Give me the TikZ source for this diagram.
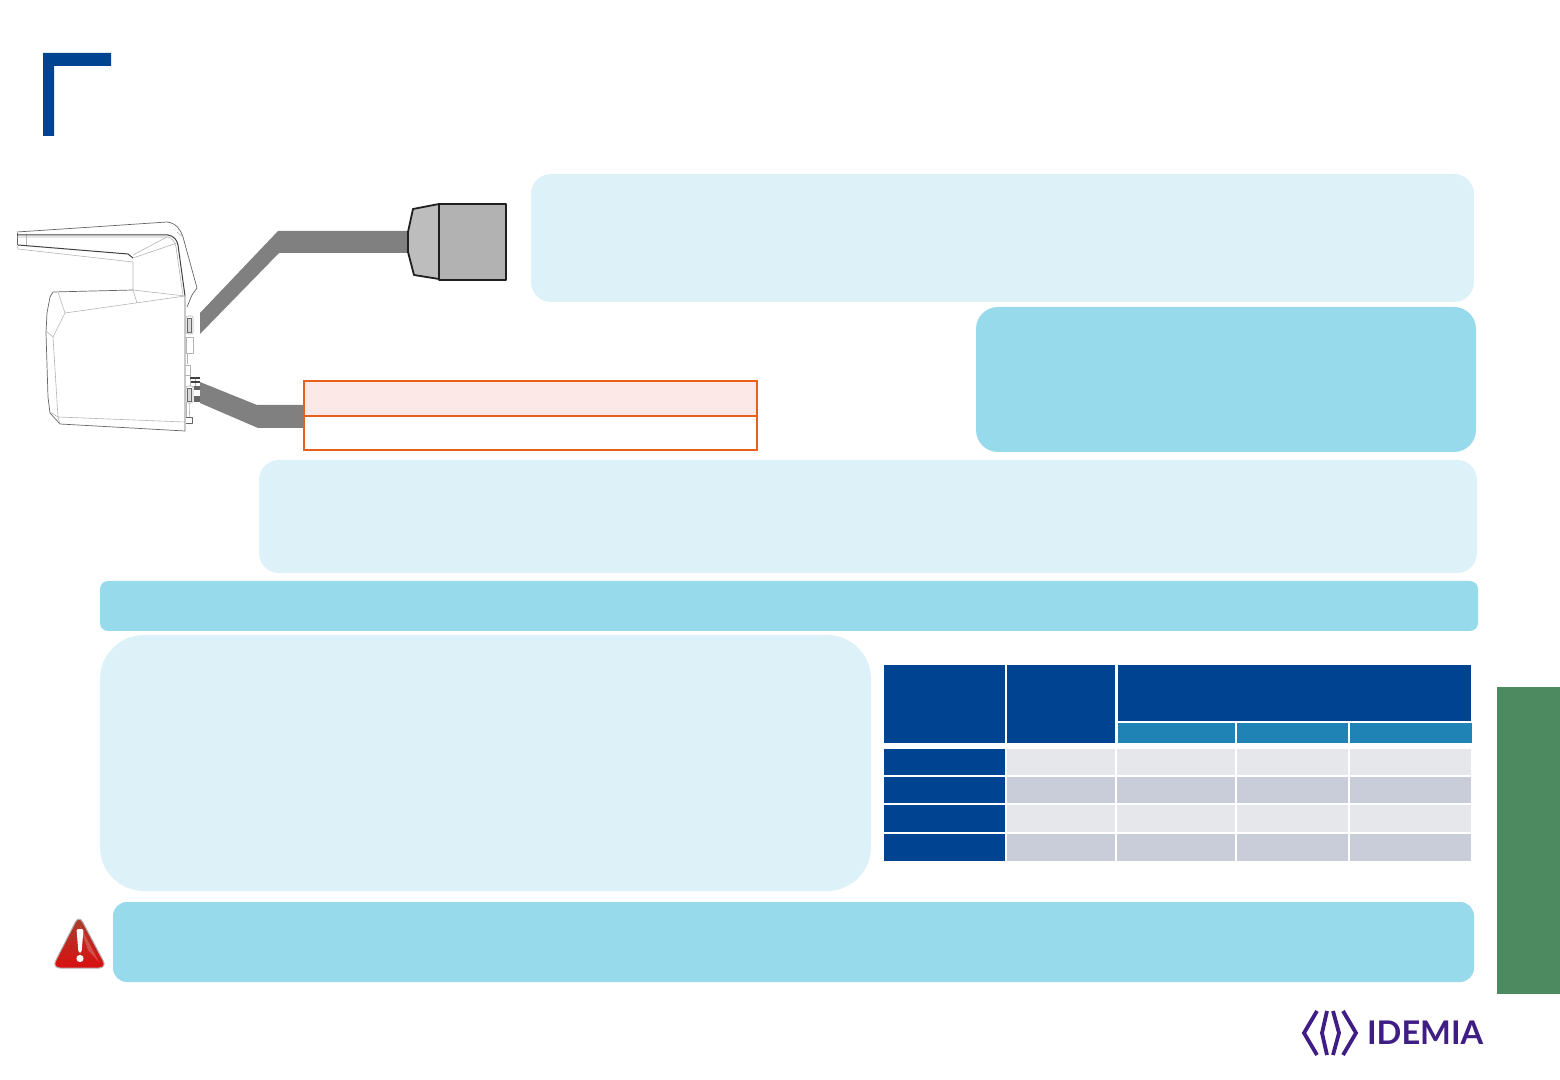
\documentclass[tikz,border=0pt]{standalone}
\usepackage{fontspec}
\setmainfont{Lato}
\definecolor{idblue}{HTML}{004391}
\definecolor{paleb}{HTML}{DDF1F8}
\definecolor{midb}{HTML}{96DAEC}
\definecolor{subb}{HTML}{1F84B5}
\definecolor{rowa}{HTML}{E6E7EB}
\definecolor{rowb}{HTML}{C9CDD9}
\definecolor{tabg}{HTML}{4D8A5F}
\definecolor{cableg}{HTML}{808080}
\definecolor{orangeb}{HTML}{E8611A}
\definecolor{pinkf}{HTML}{FDE8E8}
\definecolor{purp}{HTML}{3F1D84}
\definecolor{devl}{HTML}{B4B4B4}
\definecolor{warntop}{HTML}{A8402E}
\definecolor{warnbot}{HTML}{D81010}
\tikzset{
  pale/.style={fill=paleb},
  mid/.style={fill=midb},
  cable/.style={fill=cableg},
  devline/.style={draw=devl,line width=0.3pt,line join=round},
  devdark/.style={draw=black!60,line width=0.35pt,line join=round},
  devheavy/.style={draw=black!75,line width=0.5pt,line join=round},
  plug/.style={draw=black!88,line width=0.9pt,line join=round},
  cellh/.style={fill=idblue},
  cellsub/.style={fill=subb},
  cella/.style={fill=rowa},
  cellb/.style={fill=rowb},
  orangecell/.style={draw=orangeb,line width=1pt},
  logoline/.style={draw=purp,line width=1.9pt,line join=miter}
}
\begin{document}
\begin{tikzpicture}[x=0.5pt,y=-0.5pt]
\useasboundingbox (0,0) rectangle (1560,1080);
% corner bracket
\fill[idblue] (43,53) -- (111,53) -- (111,66) -- (54,66) -- (54,136) -- (43,136) -- cycle;
% side tab
\fill[tabg] (1497,687) rectangle (1560,994);
% bubbles
\fill[pale,rounded corners=10pt] (531,174) rectangle (1474,302);
\fill[mid,rounded corners=11pt] (976,307) rectangle (1476,452);
\fill[pale,rounded corners=10pt] (259,460) rectangle (1477,573);
\fill[mid,rounded corners=4pt] (100,581) rectangle (1478,631);
\fill[pale,rounded corners=22pt] (100,635) rectangle (871,891);
\fill[mid,rounded corners=7pt] (113,902) rectangle (1474,982);
% cables
\fill[cable] (200,313) -- (278,231) -- (412,231) -- (412,253) -- (279,253) -- (200,334) -- cycle;
\fill[cable] (200,382) -- (257,405) -- (306,405) -- (306,428) -- (258,428) -- (200,403) -- cycle;
% plug
\filldraw[plug,fill=black!26] (439,204) -- (413,209) -- (408,232) -- (408,252) -- (414,275) -- (439,279) -- cycle;
\filldraw[plug,fill=black!30] (439,204) rectangle (506,280);
% orange table
\filldraw[orangecell,fill=pinkf] (304,381) rectangle (757,416);
\filldraw[orangecell,fill=white] (304,416) rectangle (757,450);
% device
\draw[devline] (17,245) -- (18,249) -- (133,262) -- (133,290);
\draw[devdark] (17,233) -- (17,245);
\draw[devline] (26,234) -- (26,246);
\draw[devdark] (17,232) -- (100,226.5) -- (167,222) .. controls (176,223) and (181,230) .. (183,237) -- (197,288) -- (192,295) -- (187,307);
\draw[devheavy] (17,235) -- (168,235) .. controls (174,236) and (177,240) .. (178,245) -- (185,296);
\draw[devline] (17,237) -- (168,237) .. controls (172,238) and (175,242) .. (176,247) -- (183,296);
\draw[devheavy] (18,245) -- (128,254) -- (133,258);
\draw[devline] (133,255) -- (167,237);
\draw[devline] (133,258) -- (177,243);
\draw[devline] (177,232) -- (183,237);
\draw[devdark] (50,297) -- (53,292) -- (133,290);
\draw[devline] (133,290) -- (185,296);
\draw[devdark] (50,297) -- (47,313) -- (46,333) -- (48,397) -- (50,413) -- (60,424) -- (185,431) -- (185,296);
\draw[devline] (58,292) -- (65,313) -- (185,296);
\draw[devline] (65,313) -- (53,337) -- (58,417) -- (185,422);
\draw[devline] (46,331) -- (53,337);
\draw[devline] (50,412) -- (58,417) -- (60,424);
\draw[devline] (133,290) -- (137,303);
% device ports
\draw[devline,rounded corners=1pt,fill=white] (186,316) rectangle (193,334);
\draw[devdark,fill=black!15] (187.5,318) rectangle (191.5,332);
\draw[devline,fill=white] (186,337) rectangle (193,353);
\draw[devline] (187,353) -- (187,364) (185,365) -- (190,365) -- (190,378) (185,375) -- (190,375);
\draw[devline] (190,378) rectangle (195,386);
\fill[black!75] (190,377) rectangle (200,379.5);
\fill[black!75] (191,381) rectangle (200,383);
\fill[black!60] (194,386) rectangle (200,390);
\fill[black!60] (194,396) rectangle (200,402);
\draw[devline,rounded corners=1pt,fill=white] (186,386) rectangle (193,403);
\draw[devdark,fill=black!15] (187.5,388) rectangle (191.5,401);
\draw[devline] (186,403) -- (186,417) (189,403) -- (189,417) -- (189,411);
\draw[devdark] (186,417) -- (192,417) -- (192,423) -- (186,423);
% table
\fill[cellh] (884,665) rectangle (1005,743);
\fill[cellh] (1007,665) rectangle (1115,743);
\fill[cellh] (1118,665) rectangle (1471,721);
\fill[cellsub] (1118,723) rectangle (1235,743);
\fill[cellsub] (1237,723) rectangle (1348,743);
\fill[cellsub] (1350,723) rectangle (1472,743);
\foreach \yt/\yb/\st in {749/775/cella,777/803/cellb,805/832/cella,834/861/cellb}{
  \fill[cellh] (884,\yt) rectangle (1005,\yb);
  \fill[\st] (1007,\yt) rectangle (1115,\yb);
  \fill[\st] (1117,\yt) rectangle (1235,\yb);
  \fill[\st] (1237,\yt) rectangle (1348,\yb);
  \fill[\st] (1350,\yt) rectangle (1471,\yb);
}
% warning icon
\shade[top color=warntop,bottom color=warnbot,rounded corners=4pt,draw=black!30,line width=0.5pt] (79,915) -- (107,968) -- (52,968) -- cycle;
\fill[white,opacity=0.22] (80,926) -- (99,962) -- (88,950) -- cycle;
\fill[white,rounded corners=1pt] (76.5,929) -- (83.5,929) -- (81.5,953) -- (78.5,953) -- cycle;
\fill[white] (80,958.5) circle[radius=3.6];
% logo
\draw[logoline] (1317,1011) -- (1304,1033) -- (1317,1055);
\draw[logoline] (1327,1011) -- (1322,1033) -- (1327,1055);
\draw[logoline] (1333,1011) -- (1339,1033) -- (1333,1055);
\draw[logoline] (1343,1011) -- (1356,1033) -- (1343,1055);
\node[inner sep=0pt,outer sep=0pt,anchor=base west,text=purp,font=\fontsize{16.3}{17}\selectfont\bfseries] (logotext) at (1367,1044) {IDEMIA};
\end{tikzpicture}
\end{document}
